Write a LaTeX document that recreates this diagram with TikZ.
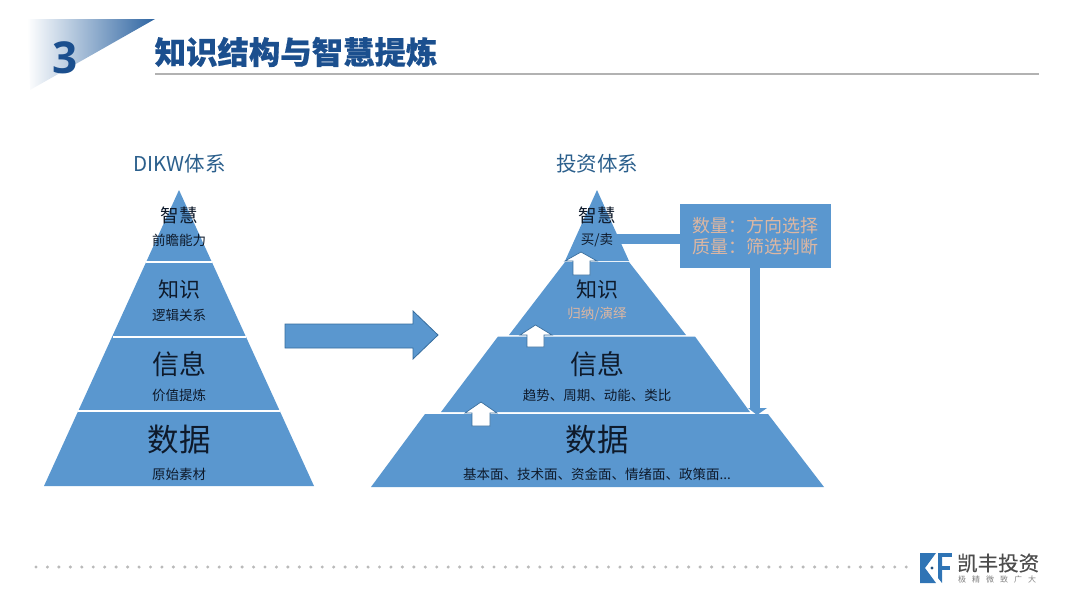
\documentclass[tikz,border=0pt]{standalone}
\usepackage{fontspec}
\setmainfont{Noto Sans CJK SC}
\newfontfamily\latb{Open Sans}
\usetikzlibrary{calc}
\definecolor{pyrd}{HTML}{5A97CF}
\definecolor{ttl}{HTML}{1B4F8E}
\definecolor{ink}{HTML}{0E1A2B}
\definecolor{peach}{HTML}{DDB7A2}
\definecolor{hd}{HTML}{2B5F8C}
\definecolor{logob}{HTML}{2F74B5}
\tikzset{
  seg/.style={fill=pyrd,draw=none},
  sep/.style={draw=white,line width=1.2pt},
  upa/.style={fill=white,draw=hd!75!pyrd,line width=.7pt,line join=miter},
  big/.style={inner sep=0pt,text=ink},
  small/.style={inner sep=0pt,text=ink,font=\fontsize{13.5}{13.5}\selectfont},
  head/.style={inner sep=0pt,text=hd,font=\fontsize{20.5}{20.5}\selectfont},
}
\newcommand{\fs}[1]{\fontsize{#1}{#1}\selectfont}
\begin{document}
\begin{tikzpicture}[x=1pt,y=-1pt]
\useasboundingbox (0,0) rectangle (1080,608);
% corner banner
\begin{scope}
  \clip (27,19) -- (155,19) -- (30,90) -- cycle;
  \shade[left color=white,right color=ttl!70!pyrd] (27,19) rectangle (155,90);
\end{scope}
\node[inner sep=0pt,text=ttl,font=\latb\bfseries\fs{44}] (num) at (65,58) {3};
\node[inner sep=0pt,text=ttl,font=\bfseries\fs{31.4},anchor=west] (title) at (154.5,52) {\addfontfeature{FakeBold=0.5}知识结构与智慧提炼};
\coordinate (rl) at (155,74); \coordinate (rr) at (1039,74);
\draw[line width=2pt,draw=black!30] (rl) -- (rr);
% headings
\node[head] (h1) at (179.5,164) {DIKW体系};
\node[head] (h2) at (597,164) {投资体系};
% left pyramid
\fill[seg] (179,190) -- (314,486) -- (44,486) -- cycle;
\draw[sep] (146,262) -- (212,262);
\draw[sep] (113,337) -- (246,337);
\draw[sep] (78,411) -- (280,411);
\node[big,font=\fs{18.5}] (a1) at (179,215.5) {智慧};
\node[small] (a2) at (179,240.5) {前瞻能力};
\node[big,font=\fs{21}] (b1) at (179,289.5) {知识};
\node[small] (b2) at (179,315.5) {逻辑关系};
\node[big,font=\fs{27}] (c1) at (179,364.5) {信息};
\node[small] (c2) at (179,395.5) {价值提炼};
\node[big,font=\fs{31.5}] (d1) at (179,440) {数据};
\node[small] (d2) at (179,474.5) {原始素材};
% middle arrow
\draw[fill=pyrd,draw=hd!75!pyrd,line width=.8pt] (285,324) -- (413,324) -- (413,311) -- (438,335) -- (413,359) -- (413,348) -- (285,348) -- cycle;
% right pyramid
\fill[seg] (597,190) -- (629,261) -- (565,261) -- cycle;
\fill[seg] (565,262) -- (629,262) -- (686,335) -- (509,335) -- cycle;
\fill[seg] (498,336.5) -- (695,336.5) -- (750,412) -- (441,412) -- cycle;
\fill[seg] (425,414) -- (768,414) -- (824,487) -- (371,487) -- cycle;
% box and connectors
\node[fill=pyrd,minimum width=151pt,minimum height=64pt,inner sep=0pt,anchor=north west,align=center,text=peach,font=\fs{18}] (box) at (680,204) {数量：方向选择\\[3pt]质量：筛选判断};
\coordinate (j1) at (617,239);
\coordinate (j2) at (755,268);
\coordinate (j3) at (755,408);
\draw[pyrd,line width=10pt] (j1) -- (box.west |- j1);
\draw[pyrd,line width=10pt] (j2) -- (j3);
\fill[pyrd] (748,408) -- (767,408) -- (757,415) -- cycle;
% white up arrows
\draw[upa] (581,252) -- (597,261) -- (590,261) -- (590,275) -- (573,275) -- (573,261) -- (565,261) -- cycle;
\draw[upa] (535.5,325) -- (552,335) -- (544,335) -- (544,347) -- (527,347) -- (527,335) -- (520,335) -- cycle;
\draw[upa] (481,402) -- (497,413) -- (490,413) -- (490,426) -- (472,426) -- (472,413) -- (465,413) -- cycle;
% right labels
\node[big,font=\fs{18.5}] (e1) at (597,215.5) {智慧};
\node[small] (e2) at (597,240.5) {买/卖};
\node[big,font=\fs{21}] (f1) at (597,289) {知识};
\node[small,text=peach] (f2) at (597,314.5) {归纳/演绎};
\node[big,font=\fs{27}] (g1) at (597,364.5) {信息};
\node[small] (g2) at (597,395.5) {趋势、周期、动能、类比};
\node[big,font=\fs{31.5}] (h1b) at (597,440) {数据};
\node[small] (h2b) at (597,474.5) {基本面、技术面、资金面、情绪面、政策面...};
% dotted footer
\foreach \i in {0,...,76} \fill[black!27] ({36+\i*11.45},567) circle (1.7pt);
% logo
\fill[logob] (920,553) -- (936,553) -- (925,568) -- (936,583) -- (920,583) -- cycle;
\fill[logob!70!black] (932,568) circle (1.7pt);
\fill[logob] (938,553) rectangle (952,556.5);
\fill[logob] (938,556.5) -- (942,556.5) -- (942,583) -- (938,578) -- cycle;
\fill[logob] (942,566) rectangle (950,569.5);
\node[inner sep=0pt,anchor=west,text=black!70,font=\fs{20.5}] (logo) at (957,563) {\addfontfeature{FakeBold=0.3}凯丰投资};
\node[inner sep=0pt,anchor=west,text=black!50,font=\fs{8}] (slog) at (958,579) {极\hspace{6pt}精\hspace{6pt}微\hspace{6pt}致\hspace{6pt}广\hspace{6pt}大};
\end{tikzpicture}
\end{document}
